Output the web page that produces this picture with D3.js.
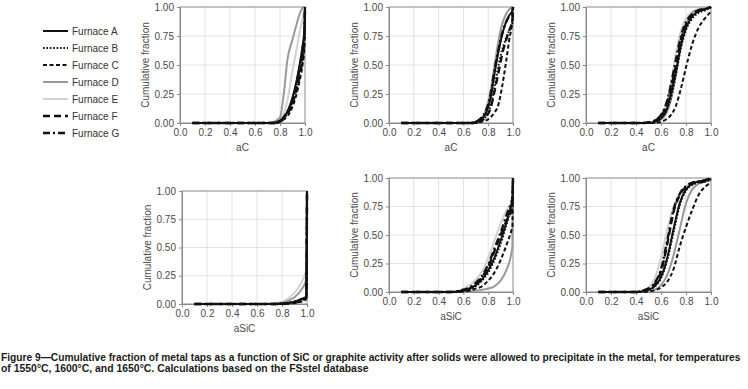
<!DOCTYPE html>
<html>
<head>
<meta charset="utf-8">
<script src="https://cdn.jsdelivr.net/npm/d3@7"></script>
<style>
  * { margin: 0; padding: 0; }
  body { background: #fff; width: 748px; height: 389px; overflow: hidden; }
  svg { display: block; font-family: "Liberation Sans", Arial, sans-serif; }
  .tick text { font-size: 10px; fill: #4a4a4a; }
  .ytitle, .xtitle { font-size: 10px; fill: #4a4a4a; }
  .legend text { font-size: 10px; fill: #333; }
  .caption { font-size: 10.5px; font-weight: bold; fill: #1a1a1a; }
</style>
</head>
<body>
<svg id="chart" width="748" height="389"></svg>
<script>
// ---- data ----
const furnaces = ["Furnace A", "Furnace B", "Furnace C", "Furnace D", "Furnace E", "Furnace F", "Furnace G"];
const xTicks = [0, 0.2, 0.4, 0.6, 0.8, 1.0];
const yTicks = [0, 0.25, 0.5, 0.75, 1.0];

// aC, 1550 C  (rows follow furnaces A..G)
const aC1550X = [0.1, 0.6, 0.7, 0.75, 0.8, 0.83, 0.86, 0.9, 0.93, 0.96, 0.98, 0.995, 1.0];
const aC1550 = [
  [0, 0, 0, 0, 0.02, 0.05, 0.1, 0.22, 0.35, 0.52, 0.66, 0.8, 1],
  [0, 0, 0, 0, 0.01, 0.04, 0.08, 0.18, 0.3, 0.45, 0.58, 0.75, 1],
  [0, 0, 0, 0, 0.01, 0.03, 0.06, 0.14, 0.24, 0.38, 0.5, 0.65, 1],
  [0, 0, 0, 0.01, 0.05, 0.25, 0.55, 0.72, 0.84, 0.95, 0.99, 1, 1],
  [0, 0, 0, 0.01, 0.03, 0.08, 0.2, 0.45, 0.62, 0.8, 0.9, 0.97, 1],
  [0, 0, 0, 0, 0.01, 0.04, 0.08, 0.17, 0.28, 0.42, 0.55, 0.72, 1],
  [0, 0, 0, 0, 0.02, 0.05, 0.1, 0.2, 0.33, 0.5, 0.63, 0.78, 1]
];

// aC, 1600 C
const aC1600X = [0.1, 0.6, 0.66, 0.7, 0.74, 0.78, 0.82, 0.85, 0.88, 0.91, 0.94, 0.97, 0.995, 1.0];
const aC1600 = [
  [0, 0, 0, 0.01, 0.03, 0.08, 0.22, 0.42, 0.6, 0.75, 0.86, 0.93, 0.97, 1],
  [0, 0, 0, 0, 0.02, 0.05, 0.15, 0.3, 0.48, 0.62, 0.72, 0.8, 0.85, 1],
  [0, 0, 0, 0, 0.01, 0.02, 0.05, 0.09, 0.15, 0.3, 0.5, 0.72, 0.9, 1],
  [0, 0, 0, 0.01, 0.03, 0.1, 0.27, 0.47, 0.68, 0.84, 0.93, 0.98, 1, 1],
  [0, 0, 0, 0.01, 0.04, 0.12, 0.3, 0.5, 0.7, 0.85, 0.93, 0.98, 1, 1],
  [0, 0, 0, 0, 0.02, 0.05, 0.13, 0.27, 0.42, 0.58, 0.7, 0.8, 0.88, 1],
  [0, 0, 0, 0.01, 0.04, 0.1, 0.25, 0.45, 0.62, 0.76, 0.86, 0.92, 0.95, 1]
];

// aC, 1650 C
const aC1650X = [0.1, 0.45, 0.5, 0.55, 0.6, 0.64, 0.68, 0.72, 0.76, 0.8, 0.85, 0.9, 0.95, 1.0];
const aC1650 = [
  [0, 0, 0, 0.01, 0.04, 0.1, 0.25, 0.45, 0.67, 0.82, 0.92, 0.96, 0.98, 1],
  [0, 0, 0, 0.01, 0.04, 0.1, 0.22, 0.42, 0.65, 0.8, 0.9, 0.95, 0.97, 1],
  [0, 0, 0, 0, 0.01, 0.03, 0.07, 0.15, 0.3, 0.48, 0.68, 0.82, 0.9, 0.96],
  [0, 0, 0, 0.01, 0.03, 0.08, 0.2, 0.42, 0.68, 0.85, 0.95, 0.98, 0.99, 1],
  [0, 0, 0, 0.01, 0.05, 0.15, 0.35, 0.6, 0.8, 0.9, 0.96, 0.98, 0.99, 1],
  [0, 0, 0.005, 0.02, 0.06, 0.14, 0.3, 0.5, 0.72, 0.85, 0.93, 0.97, 0.98, 1],
  [0, 0, 0.005, 0.02, 0.07, 0.16, 0.33, 0.55, 0.75, 0.87, 0.94, 0.97, 0.98, 1]
];

// aSiC, 1550 C
const aSiC1550X = [0.1, 0.6, 0.7, 0.75, 0.8, 0.85, 0.9, 0.95, 0.99, 0.995, 1.0];
const aSiC1550 = [
  [0, 0, 0, 0, 0.005, 0.01, 0.02, 0.04, 0.06, 0.07, 1],
  [0, 0, 0, 0, 0.005, 0.01, 0.02, 0.03, 0.05, 0.06, 1],
  [0, 0, 0, 0, 0, 0.005, 0.01, 0.02, 0.04, 0.05, 1],
  [0, 0, 0, 0.005, 0.01, 0.03, 0.06, 0.12, 0.2, 0.22, 0.24],
  [0, 0, 0.005, 0.01, 0.02, 0.05, 0.1, 0.18, 0.28, 0.3, 0.32],
  [0, 0, 0, 0, 0, 0.005, 0.01, 0.03, 0.05, 0.06, 1],
  [0, 0, 0, 0, 0.005, 0.01, 0.02, 0.04, 0.06, 0.07, 1]
];

// aSiC, 1600 C
const aSiC1600X = [0.1, 0.4, 0.5, 0.55, 0.6, 0.65, 0.7, 0.75, 0.8, 0.85, 0.9, 0.95, 0.99, 0.995, 1.0];
const aSiC1600 = [
  [0, 0, 0, 0.005, 0.01, 0.03, 0.06, 0.11, 0.19, 0.3, 0.45, 0.62, 0.78, 0.8, 1],
  [0, 0, 0, 0, 0.01, 0.02, 0.05, 0.1, 0.17, 0.28, 0.42, 0.6, 0.76, 0.78, 1],
  [0, 0, 0, 0, 0.005, 0.01, 0.03, 0.05, 0.1, 0.17, 0.28, 0.42, 0.55, 0.57, 1],
  [0, 0, 0, 0, 0, 0.005, 0.01, 0.02, 0.03, 0.05, 0.1, 0.2, 0.36, 0.4, 1],
  [0, 0, 0.005, 0.01, 0.03, 0.06, 0.11, 0.18, 0.3, 0.45, 0.6, 0.72, 0.78, 0.8, 1],
  [0, 0, 0, 0.005, 0.01, 0.03, 0.07, 0.13, 0.22, 0.36, 0.5, 0.63, 0.72, 0.74, 1],
  [0, 0, 0, 0.005, 0.02, 0.04, 0.08, 0.14, 0.24, 0.38, 0.52, 0.68, 0.8, 0.82, 1]
];

// aSiC, 1650 C
const aSiC1650X = [0.1, 0.35, 0.4, 0.45, 0.5, 0.55, 0.6, 0.65, 0.7, 0.75, 0.8, 0.85, 0.9, 0.95, 1.0];
const aSiC1650 = [
  [0, 0, 0, 0.005, 0.02, 0.05, 0.13, 0.3, 0.55, 0.78, 0.9, 0.95, 0.97, 0.98, 0.99],
  [0, 0, 0, 0.005, 0.02, 0.05, 0.12, 0.28, 0.52, 0.76, 0.89, 0.94, 0.96, 0.97, 0.98],
  [0, 0, 0, 0, 0.005, 0.015, 0.04, 0.09, 0.2, 0.4, 0.57, 0.72, 0.85, 0.92, 0.96],
  [0, 0, 0, 0, 0.01, 0.02, 0.06, 0.15, 0.32, 0.55, 0.78, 0.9, 0.95, 0.97, 0.98],
  [0, 0, 0.005, 0.01, 0.04, 0.12, 0.3, 0.55, 0.75, 0.87, 0.93, 0.96, 0.97, 0.98, 0.99],
  [0, 0, 0, 0.01, 0.03, 0.07, 0.18, 0.42, 0.7, 0.85, 0.92, 0.95, 0.96, 0.97, 0.99],
  [0, 0, 0, 0.01, 0.03, 0.08, 0.2, 0.45, 0.72, 0.86, 0.93, 0.96, 0.97, 0.98, 1]
];

const captionLines = [
  "Figure 9\u2014Cumulative fraction of metal taps as a function of SiC or graphite activity after solids were allowed to precipitate in the metal, for temperatures",
  "of 1550\u00b0C, 1600\u00b0C, and 1650\u00b0C. Calculations based on the FSstel database"
];

// ---- styles per furnace ----
const styles = [
  { color: "#111", width: 2, dash: null },
  { color: "#111", width: 2, dash: "1.6,1.8" },
  { color: "#111", width: 2, dash: "4,2.5" },
  { color: "#999", width: 2, dash: null },
  { color: "#d2d2d2", width: 2, dash: null },
  { color: "#111", width: 2.4, dash: "7,4" },
  { color: "#111", width: 2.4, dash: "7,3,2,3" }
];
const drawOrder = [4, 3, 0, 1, 2, 5, 6];

const panels = [
  { xs: aC1550X, ys: aC1550, title: "aC", left: 180, top: 7, w: 125, h: 116 },
  { xs: aC1600X, ys: aC1600, title: "aC", left: 389, top: 7, w: 124, h: 116 },
  { xs: aC1650X, ys: aC1650, title: "aC", left: 586, top: 7, w: 125, h: 116 },
  { xs: aSiC1550X, ys: aSiC1550, title: "aSiC", left: 182, top: 191, w: 125, h: 113 },
  { xs: aSiC1600X, ys: aSiC1600, title: "aSiC", left: 389, top: 178, w: 124, h: 114 },
  { xs: aSiC1650X, ys: aSiC1650, title: "aSiC", left: 586, top: 178, w: 125, h: 114 }
];

const svg = d3.select("#chart");

panels.forEach(p => {
  const x = d3.scaleLinear().domain([0, 1]).range([0, p.w]);
  const y = d3.scaleLinear().domain([0, 1]).range([p.h, 0]);
  const g = svg.append("g").attr("transform", `translate(${p.left},${p.top})`);

  // grid
  g.append("g").selectAll("line").data(xTicks.slice(1, -1)).join("line")
    .attr("x1", d => x(d)).attr("x2", d => x(d))
    .attr("y1", 0).attr("y2", p.h)
    .attr("stroke", "#e2e2e6").attr("stroke-width", 1);
  g.append("g").selectAll("line").data(yTicks.slice(1, -1)).join("line")
    .attr("x1", 0).attr("x2", p.w)
    .attr("y1", d => y(d)).attr("y2", d => y(d))
    .attr("stroke", "#e2e2e6").attr("stroke-width", 1);

  // frame
  g.append("rect").attr("x", 0).attr("y", 0).attr("width", p.w).attr("height", p.h)
    .attr("fill", "none").attr("stroke", "#8a8a8a").attr("stroke-width", 1);

  // axes
  const ya = g.append("g")
    .call(d3.axisLeft(y).tickValues(yTicks).tickFormat(d3.format(".2f")).tickSize(3).tickSizeOuter(0).tickPadding(3));
  const xa = g.append("g").attr("transform", `translate(0,${p.h})`)
    .call(d3.axisBottom(x).tickValues(xTicks).tickFormat(d3.format(".1f")).tickSize(3).tickSizeOuter(0).tickPadding(3));
  [ya, xa].forEach(a => {
    a.select(".domain").attr("stroke", "#8a8a8a");
    a.selectAll(".tick line").attr("stroke", "#8a8a8a");
    a.selectAll(".tick text").attr("font-family", null).attr("font-size", null);
  });

  // curves
  const line = d3.line()
    .x((d, i) => x(p.xs[i]))
    .y(d => y(d))
    .curve(d3.curveMonotoneX);
  drawOrder.forEach(k => {
    const s = styles[k];
    g.append("path")
      .attr("d", line(p.ys[k]))
      .attr("fill", "none")
      .attr("stroke", s.color)
      .attr("stroke-width", s.width)
      .attr("stroke-dasharray", s.dash);
  });

  // titles
  g.append("text").attr("class", "xtitle")
    .attr("x", p.w / 2).attr("y", p.h + 28)
    .attr("text-anchor", "middle").text(p.title);
  g.append("text").attr("class", "ytitle")
    .attr("transform", `translate(-31,${p.h / 2}) rotate(-90)`)
    .attr("text-anchor", "middle").text("Cumulative fraction");
});

// legend
const legend = svg.append("g").attr("class", "legend");
furnaces.forEach((name, i) => {
  const s = styles[i];
  const yy = 31 + i * 17;
  legend.append("line")
    .attr("x1", 43).attr("x2", 68).attr("y1", yy).attr("y2", yy)
    .attr("stroke", s.color).attr("stroke-width", s.width)
    .attr("stroke-dasharray", s.dash);
  legend.append("text").attr("x", 72).attr("y", yy + 3.5).text(name);
});

// caption: squeeze horizontally (narrow bold look) with a real scale transform
const capWidths = [740, 368];
const capY = [361, 372];
captionLines.forEach((txt, i) => {
  const t = svg.append("text").attr("class", "caption")
    .attr("x", 0).attr("y", 0).text(txt);
  const natural = t.node().getComputedTextLength();
  const sx = capWidths[i] / natural;
  t.attr("transform", `translate(1,${capY[i]}) scale(${sx},1)`);
});
</script>
</body>
</html>
